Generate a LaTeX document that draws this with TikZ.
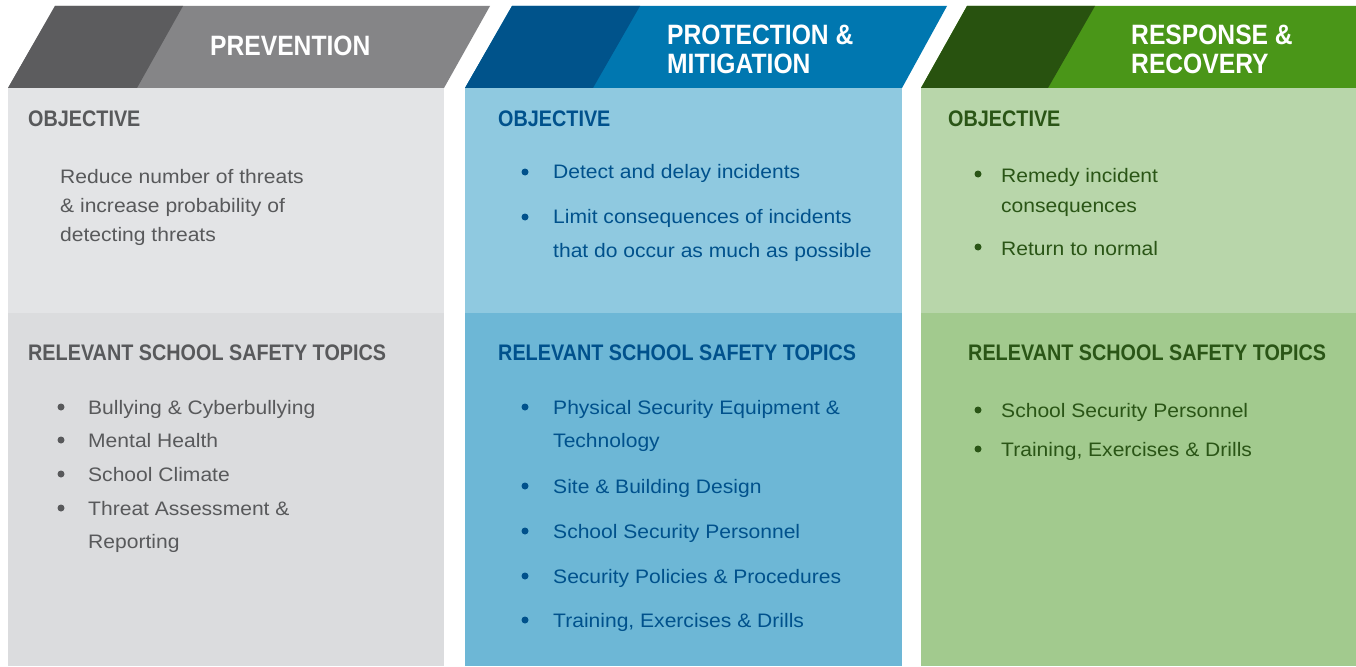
\documentclass[tikz,border=0pt]{standalone}
\usepackage{fontspec}
\setmainfont{Liberation Sans}
\newfontfamily\hfont[FakeStretch=0.88]{Liberation Sans}
\newfontfamily\bfont[FakeStretch=1.08]{Liberation Sans}
\definecolor{gdark}{HTML}{5C5C5E}
\definecolor{glight}{HTML}{858587}
\definecolor{gup}{HTML}{E3E4E6}
\definecolor{glow}{HTML}{DBDCDE}
\definecolor{gtext}{HTML}{58595B}
\definecolor{bdark}{HTML}{00538B}
\definecolor{blight}{HTML}{0077B0}
\definecolor{bup}{HTML}{8FC9E0}
\definecolor{blow}{HTML}{6DB7D6}
\definecolor{btext}{HTML}{00518C}
\definecolor{ndark}{HTML}{28520F}
\definecolor{nlight}{HTML}{4A9618}
\definecolor{nup}{HTML}{B8D6AA}
\definecolor{nlow}{HTML}{A2CA8E}
\definecolor{ntext}{HTML}{2A5516}
\tikzset{
  head/.style={anchor=base west, inner sep=0pt, text=white, font=\hfont\bfseries\fontsize{28}{28}\selectfont},
  sub/.style={anchor=base west, inner sep=0pt, font=\hfont\bfseries\fontsize{22.5}{22.5}\selectfont},
  txt/.style={anchor=base west, inner sep=0pt, font=\bfont\fontsize{19.5}{19.5}\selectfont},
  bul/.style={circle, inner sep=0pt, minimum size=7pt},
}
\begin{document}
\begin{tikzpicture}[x=1pt,y=-1pt]
\useasboundingbox (0,0) rectangle (1356,666);
\fill[white] (0,0) rectangle (1356,666);
% column 1
\fill[gup] (8,88) rectangle (444,313);
\fill[glow] (8,313) rectangle (444,666);
\fill[glight] (55,6) -- (490,6) -- (444,88) -- (8,88) -- cycle;
\fill[gdark] (55,6) -- (183,6) -- (137,88) -- (8,88) -- cycle;
% column 2
\fill[bup] (465,88) rectangle (902,313);
\fill[blow] (465,313) rectangle (902,666);
\fill[blight] (512,6) -- (947,6) -- (902,88) -- (465,88) -- cycle;
\fill[bdark] (512,6) -- (640,6) -- (593,88) -- (465,88) -- cycle;
% column 3
\fill[nup] (921,88) rectangle (1356,313);
\fill[nlow] (921,313) rectangle (1356,666);
\fill[nlight] (967,6) -- (1356,6) -- (1356,88) -- (921,88) -- cycle;
\fill[ndark] (967,6) -- (1095,6) -- (1048,88) -- (921,88) -- cycle;

% headers
\node[head] (h1) at (210,56) {PREVENTION};
\node[head] (h2a) at (667,45) {PROTECTION \&};
\node[head] (h2b) at (667,74) {MITIGATION};
\node[head] (h3a) at (1131,45) {RESPONSE \&};
\node[head] (h3b) at (1131,74) {RECOVERY};

% column 1 text
\begin{scope}[every node/.append style={text=gtext}]
\node[sub] (o1) at (28,127) {OBJECTIVE};
\node[txt] (o1a) at (60,183) {Reduce number of threats};
\node[txt] (o1b) at (60,212) {\& increase probability of};
\node[txt] (o1c) at (60,241) {detecting threats};
\node[sub] (r1) at (28,360) {RELEVANT SCHOOL SAFETY TOPICS};
\node[txt] (t1a) at (88,414) {Bullying \& Cyberbullying};
\node[txt] (t1b) at (88,447) {Mental Health};
\node[txt] (t1c) at (88,481) {School Climate};
\node[txt] (t1d) at (88,515) {Threat Assessment \&};
\node[txt] (t1e) at (88,548) {Reporting};
\end{scope}
\foreach \n/\y in {a/407,b/440,c/474,d/508}
  \node[bul, fill=gtext] (b1\n) at (61,\y) {};

% column 2 text
\begin{scope}[every node/.append style={text=btext}]
\node[sub] (o2) at (498,127) {OBJECTIVE};
\node[txt] (o2a) at (553,178) {Detect and delay incidents};
\node[txt] (o2b) at (553,223) {Limit consequences of incidents};
\node[txt] (o2c) at (553,257) {that do occur as much as possible};
\node[sub] (r2) at (498,360) {RELEVANT SCHOOL SAFETY TOPICS};
\node[txt] (t2a) at (553,414) {Physical Security Equipment \&};
\node[txt] (t2b) at (553,447) {Technology};
\node[txt] (t2c) at (553,493) {Site \& Building Design};
\node[txt] (t2d) at (553,538) {School Security Personnel};
\node[txt] (t2e) at (553,583) {Security Policies \& Procedures};
\node[txt] (t2f) at (553,627) {Training, Exercises \& Drills};
\end{scope}
\foreach \n/\y in {oa/172,ob/217,a/407,c/486,d/531,e/576,f/620}
  \node[bul, fill=btext] (b2\n) at (525,\y) {};

% column 3 text
\begin{scope}[every node/.append style={text=ntext}]
\node[sub] (o3) at (948,127) {OBJECTIVE};
\node[txt] (o3a) at (1001,182) {Remedy incident};
\node[txt] (o3b) at (1001,212) {consequences};
\node[txt] (o3c) at (1001,255) {Return to normal};
\node[sub] (r3) at (968,360) {RELEVANT SCHOOL SAFETY TOPICS};
\node[txt] (t3a) at (1001,417) {School Security Personnel};
\node[txt] (t3b) at (1001,456) {Training, Exercises \& Drills};
\end{scope}
\foreach \n/\y in {oa/174,ob/247,a/410,b/449}
  \node[bul, fill=ntext] (b3\n) at (978,\y) {};
\end{tikzpicture}
\end{document}
